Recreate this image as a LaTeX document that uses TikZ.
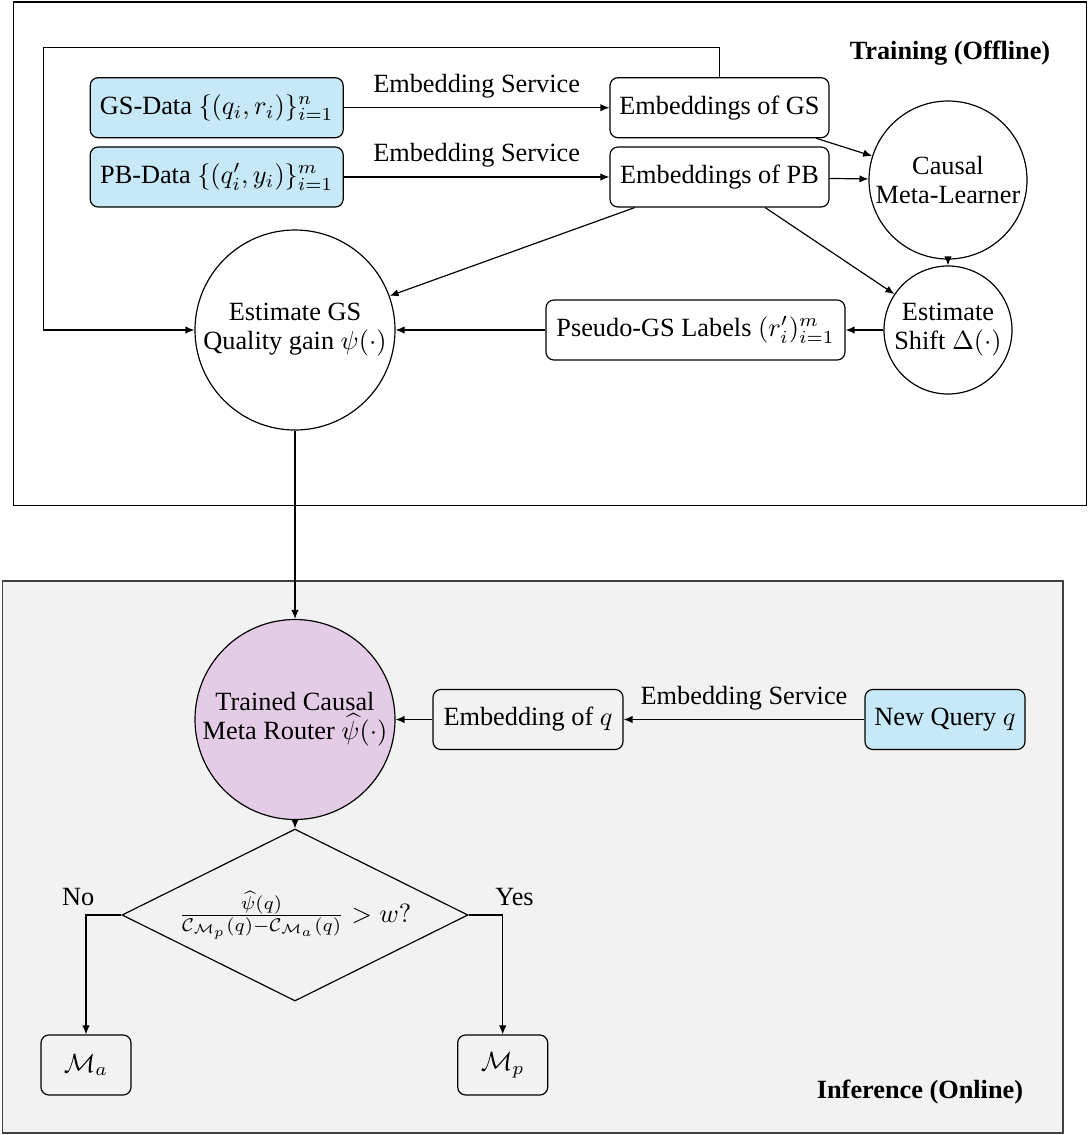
\documentclass[tikz,border=0pt]{standalone}
\usepackage[no-math]{fontspec}
\setmainfont{Liberation Serif}
\usepackage{amsmath}
\usetikzlibrary{shapes.geometric,arrows.meta}
\definecolor{qblue}{RGB}{198,232,247}
\definecolor{qpink}{RGB}{229,204,230}
\definecolor{qgray}{RGB}{242,242,242}
\newcommand{\pxl}[1]{#1*0.3802pt}
\begin{document}
\begin{tikzpicture}[x=0.3802pt,y=-0.3802pt,
  font=\fontsize{10}{11}\selectfont,
  box/.style={draw, rounded corners=3pt, line width=0.45pt, inner sep=2pt, align=center},
  databox/.style={box, fill=qblue},
  circ/.style={draw, circle, inner sep=0pt, line width=0.45pt, align=center},
  arr/.style={-{Latex[length=3.4pt,width=2.8pt]}, line width=0.45pt},
  frame/.style={draw, line width=0.55pt, inner sep=0pt}]
\useasboundingbox (0,0) rectangle (1088,1135);
% frames
\node[frame, minimum width=\pxl{1072.8}, minimum height=\pxl{503.3}] (trainframe) at (550.1,253.7) {};
\node[frame, draw=black!75, fill=qgray, minimum width=\pxl{1060.7}, minimum height=\pxl{552}] (infframe) at (532.7,857) {};
\node[font=\fontsize{10}{11}\selectfont\bfseries] (trainlbl) at (950,53) {Training (Offline)};
\node[font=\fontsize{10}{11}\selectfont\bfseries] (inflbl) at (920,1092) {Inference (Online)};
% training nodes
\node[databox, minimum width=\pxl{253}, minimum height=\pxl{60}] (gs) at (216.7,107.7) {GS-Data $\{(q_i,r_i)\}_{i=1}^n$};
\node[databox, minimum width=\pxl{253}, minimum height=\pxl{60}] (pb) at (216.7,177) {PB-Data $\{(q'_i,y_i)\}_{i=1}^m$};
\node[box, minimum width=\pxl{219}, minimum height=\pxl{60}] (egs) at (719.5,107.7) {Embeddings of GS};
\node[box, minimum width=\pxl{219}, minimum height=\pxl{60}] (epb) at (719.5,177) {Embeddings of PB};
\node[circ, minimum size=\pxl{158}] (cml) at (948,180) {Causal\\Meta-Learner};
\node[circ, minimum size=\pxl{128}] (shift) at (948,330) {Estimate\\Shift $\Delta(\cdot)$};
\node[box, minimum width=\pxl{299}, minimum height=\pxl{60}] (pseudo) at (695.5,330) {Pseudo-GS Labels $(r_i')_{i=1}^m$};
\node[circ, minimum size=\pxl{200}] (est) at (295,330) {Estimate GS\\Quality gain $\psi(\cdot)$};
\coordinate (l1) at (719.5,47.7);
\coordinate (l2) at (43.8,47.7);
% inference nodes
\node[circ, fill=qpink, minimum size=\pxl{200}] (trained) at (295,719.5) {Trained Causal\\Meta Router $\widehat{\psi}(\cdot)$};
\node[box, minimum width=\pxl{190}, minimum height=\pxl{60}] (embq) at (528,719.5) {Embedding of $q$};
\node[databox, minimum width=\pxl{160}, minimum height=\pxl{60}] (newq) at (945,719.5) {New Query $q$};
\node[draw, diamond, aspect=2, inner sep=0pt, line width=0.45pt, minimum width=\pxl{346}, minimum height=\pxl{172}] (dia) at (295,915) {$\frac{\widehat{\psi}(q)}{\mathcal{C}_{\mathcal{M}_p}(q)-\mathcal{C}_{\mathcal{M}_a}(q)} > w?$};
\node[box, minimum width=\pxl{90}, minimum height=\pxl{60}] (ma) at (86,1065) {$\mathcal{M}_a$};
\node[box, minimum width=\pxl{90}, minimum height=\pxl{60}] (mp) at (502.7,1065) {$\mathcal{M}_p$};
% connectors
\draw[arr] (gs) -- node[above]{Embedding Service} (egs);
\draw[arr] (pb) -- node[above]{Embedding Service} (epb);
\draw[arr] (egs) -- (cml);
\draw[arr] (epb) -- (cml);
\draw[arr] (epb) -- (est);
\draw[arr] (epb) -- (shift);
\draw[arr] (cml) -- (shift);
\draw[arr] (shift) -- (pseudo);
\draw[arr] (pseudo) -- (est);
\draw[arr] (egs.north) -- (l1) -- (l2) |- (est);
\draw[arr] (est) -- (trained);
\draw[arr] (newq) -- node[above]{Embedding Service} (embq);
\draw[arr] (embq) -- (trained);
\draw[arr] (trained) -- (dia);
\draw[arr] (dia.west) -| node[pos=0.5, above, xshift=-3pt]{No} (ma.north);
\draw[arr] (dia.east) -| node[pos=0.5, above, xshift=4.5pt]{Yes} (mp.north);
\end{tikzpicture}
\end{document}
